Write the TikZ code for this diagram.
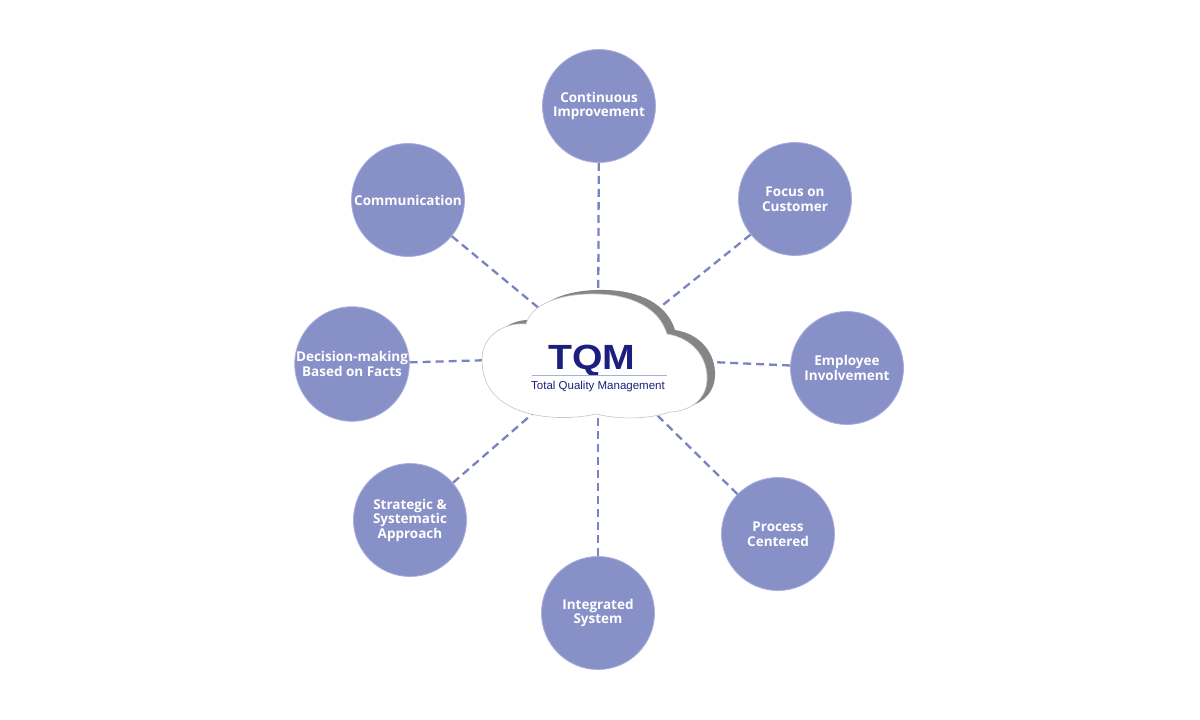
\documentclass[tikz,border=0pt]{standalone}
\usepackage{fontspec}
\setmainfont{Open Sans}
\newfontfamily\arialfont{Liberation Sans}
\definecolor{circfill}{HTML}{8890C8}
\definecolor{circrim}{HTML}{A9AFDB}
\definecolor{linkcol}{HTML}{7A83C2}
\definecolor{tqmblue}{HTML}{1B1F7E}
\definecolor{shadowgray}{HTML}{858585}
\definecolor{cloudedge}{HTML}{C4C4C4}
\tikzset{
  topic/.style={circle, fill=circfill, draw=circrim, line width=0.8pt, minimum size=113pt,
    inner sep=0pt, align=center, text=white,
    font=\bfseries\fontsize{13.5}{14.5}\selectfont},
  link/.style={draw=linkcol, line width=2.3pt, dash pattern=on 8pt off 5pt},
  cloudshape/.style={insert path={
    (482,360)
    .. controls (481,338) and (502,322) .. (526,324)
    .. controls (532,302) and (565,293) .. (598,294)
    .. controls (632,295) and (659,308) .. (667,334)
    .. controls (693,338) and (708,358) .. (707,380)
    .. controls (706,400) and (690,411) .. (670,412)
    .. controls (650,419) and (620,420) .. (596,414)
    .. controls (565,421) and (525,418) .. (503,402)
    .. controls (488,392) and (482,376) .. (482,360) -- cycle}},
}
\begin{document}
\begin{tikzpicture}[x=1pt,y=-1pt]
\useasboundingbox (0,0) rectangle (1200,720);
\fill[white] (0,0) rectangle (1200,720);
\coordinate (hub) at (598,357);
% topic circles
\node[topic] (ci) at (599,106) {Continuous\\Improvement};
\node[topic] (fc) at (795,199) {Focus on\\Customer};
\node[topic] (ei) at (847,368) {Employee\\Involvement};
\node[topic] (pc) at (778,534) {Process\\Centered};
\node[topic] (is) at (598,613) {Integrated\\System};
\node[topic] (ss) at (410,520) {Strategic \&\\Systematic\\Approach};
\node[topic] (dm) at (352,364) {Decision-making\\Based on Facts};
\node[topic] (co) at (408,200) {Communication};
% connectors
\foreach \n in {ci,fc,ei,pc,is,ss,dm,co}
  \draw[link] (\n) -- (hub);
% cloud
\fill[shadowgray, shift={(8,-4)}, cloudshape];
\filldraw[fill=white, draw=cloudedge, line width=0.6pt, cloudshape];
\node[anchor=base, font=\arialfont\bfseries\fontsize{35}{35}\selectfont, text=tqmblue,
  xscale=1.12, inner sep=0pt] (tqm) at (592,369) {TQM};
\draw[draw=circrim, line width=0.6pt] (532,375) -- (667,375);
\node[anchor=base, font=\arialfont\fontsize{11.5}{12}\selectfont, text=tqmblue,
  inner sep=0pt] (sub) at (598,389) {Total Quality Management};
\end{tikzpicture}
\end{document}
